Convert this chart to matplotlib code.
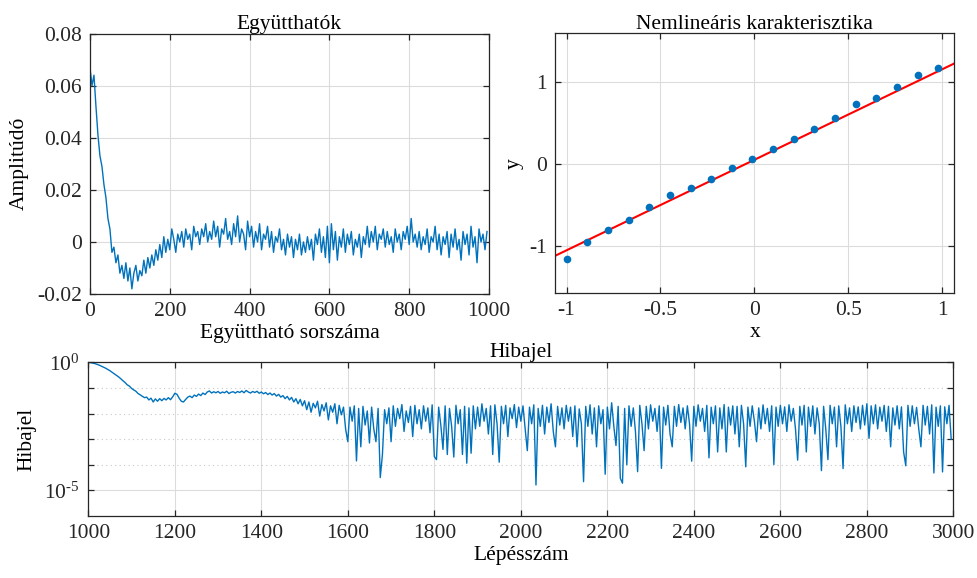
import numpy as np
import matplotlib
matplotlib.use('Agg')
import matplotlib.pyplot as plt
from matplotlib.ticker import FixedLocator, NullFormatter

plt.rcParams['font.family'] = ['Liberation Serif', 'DejaVu Serif']
plt.rcParams['mathtext.fontset'] = 'custom'
plt.rcParams['mathtext.rm'] = 'Liberation Serif'
plt.rcParams['axes.unicode_minus'] = False

# coefficients (every 5th tap), in units of 1e-3
coef_n = list(range(0, 1000, 5))
coef_milli = [
    67, 60, 64, 52, 41, 33, 29, 22, 17, 9, 5, -4, -2, -8, -5, -12, -9, -14, -8, -15,
    -10, -18, -12, -9, -15, -11, -13, -7, -12, -6, -10, -5, -9, -3, -7, -1, -6, 2, -4, 1,
    -3, 5, 1, -4, 3, 0, 4, -2, 5, 1, 3, -3, 6, 2, 4, -1, 5, 2, 7, 0,
    4, 1, 8, 2, 6, -2, 5, 3, 9, 1, 4, -1, 7, 2, 10, 0, 5, 3, -3, 8,
    2, 6, -2, 4, 0, 7, -3, 3, 1, 6, -2, 4, -4, 2, 0, 5, -3, 1, -5, 3,
    -2, 2, -6, 1, -3, 3, -5, 0, -4, 2, -3, 1, -7, 3, -1, 5, -4, 2, -6, 6,
    -8, 7, -3, 4, -7, 2, -2, 5, -4, 3, -1, 4, -5, 1, -2, 3, -6, 2, -1, 6,
    -2, 4, 0, 6, -3, 3, 1, 5, -2, 4, -1, 2, -4, 5, 0, 3, -3, 4, 1, 6,
    -1, 9, 0, 3, -2, 4, -3, 2, -1, 5, -4, 2, 0, 6, -3, 3, -5, 2, -1, 4,
    -6, 3, -2, 5, -3, 1, -7, 4, -1, 3, -5, 6, -2, 2, -8, 5, 0, 3, -3, 4,
]

# nonlinear characteristic samples
char_x = [-1.0, -0.89, -0.78, -0.67, -0.56, -0.45, -0.34, -0.23, -0.12, -0.01,
          0.10, 0.21, 0.32, 0.43, 0.54, 0.65, 0.76, 0.87, 0.98]
char_y = [-1.15, -0.95, -0.80, -0.68, -0.52, -0.37, -0.29, -0.18, -0.05, 0.07,
          0.19, 0.31, 0.43, 0.57, 0.74, 0.81, 0.95, 1.09, 1.18]
fit_x = [-1.06, 1.065]
fit_y = [-1.115, 1.232]

# error signal (every 5th step), log10 of value
err_step = list(range(1000, 3000, 5))
err_log10 = [
    0.0, -0.01, -0.03, -0.05, -0.08, -0.11, -0.15, -0.19, -0.23, -0.28,
    -0.33, -0.39, -0.45, -0.51, -0.57, -0.64, -0.72, -0.79, -0.88, -0.93,
    -1.02, -1.08, -1.13, -1.22, -1.27, -1.33, -1.38, -1.36, -1.47, -1.40,
    -1.55, -1.43, -1.52, -1.42, -1.50, -1.41, -1.47, -1.38, -1.46, -1.35,
    -1.21, -1.25, -1.40, -1.52, -1.55, -1.45, -1.36, -1.32, -1.38, -1.28,
    -1.33, -1.24, -1.30, -1.20, -1.26, -1.16, -1.12, -1.20, -1.15, -1.19,
    -1.14, -1.21, -1.16, -1.19, -1.13, -1.22, -1.17, -1.15, -1.20, -1.14,
    -1.18, -1.12, -1.19, -1.10, -1.16, -1.20, -1.14, -1.18, -1.13, -1.21,
    -1.16, -1.23, -1.18, -1.26, -1.20, -1.28, -1.22, -1.32, -1.25, -1.36,
    -1.30, -1.42, -1.33, -1.47, -1.37, -1.55, -1.42, -1.62, -1.45, -1.70,
    -1.50, -1.85, -1.55, -1.95, -1.60, -1.78, -1.52, -2.10, -1.65, -1.90,
    -1.58, -2.25, -1.70, -1.95, -1.62, -2.40, -1.68, -2.05, -1.75, -2.62,
    -3.10, -1.75, -2.30, -1.70, -3.85, -1.80, -3.30, -1.72, -2.45, -1.90,
    -3.15, -1.75, -2.60, -3.10, -1.80, -4.50, -3.60, -1.85, -2.40, -1.78,
    -3.10, -1.70, -2.50, -1.80, -2.20, -1.65, -2.70, -1.90, -2.35, -1.72,
    -2.90, -1.68, -2.40, -1.85, -2.60, -1.70, -2.30, -1.78, -2.75, -1.66,
    -3.68, -3.80, -1.75, -2.45, -3.40, -1.70, -3.60, -1.80, -2.50, -3.70,
    -1.68, -2.40, -1.85, -3.60, -1.72, -3.94, -1.78, -3.55, -1.70, -2.60,
    -1.75, -2.50, -1.62, -2.30, -1.80, -2.80, -1.70, -3.60, -1.66, -2.40,
    -3.90, -1.72, -2.40, -1.68, -2.90, -1.78, -2.20, -1.65, -2.55, -1.75,
    -2.30, -1.70, -2.60, -3.45, -1.75, -2.40, -1.66, -4.79, -1.80, -2.50,
    -1.68, -2.80, -1.75, -2.35, -1.62, -2.70, -3.30, -1.72, -2.45, -1.78,
    -2.60, -1.68, -2.30, -1.75, -2.90, -1.70, -3.30, -1.82, -2.40, -4.66,
    -1.72, -2.50, -1.66, -2.80, -1.78, -3.30, -1.70, -2.40, -1.85, -4.37,
    -1.75, -2.60, -1.58, -2.50, -3.25, -1.72, -4.53, -4.72, -1.80, -4.00,
    -1.70, -2.50, -1.78, -2.70, -4.27, -1.68, -2.40, -3.45, -1.72, -2.60,
    -1.66, -2.30, -1.80, -2.70, -1.70, -4.14, -1.75, -2.45, -1.68, -2.80,
    -3.30, -1.72, -2.50, -1.65, -2.35, -1.78, -2.60, -1.70, -2.40, -3.86,
    -1.72, -2.50, -1.66, -2.30, -1.80, -2.70, -1.68, -3.73, -1.75, -2.40,
    -1.70, -3.50, -1.78, -2.60, -1.65, -3.50, -1.75, -2.45, -1.70, -2.80,
    -1.72, -3.30, -1.68, -2.40, -4.08, -1.75, -2.50, -1.70, -2.30, -3.10,
    -1.78, -2.60, -1.66, -2.40, -1.80, -2.70, -1.70, -3.99, -1.75, -2.50,
    -1.68, -2.40, -1.74, -2.70, -1.66, -2.30, -1.80, -2.60, -3.82, -1.72,
    -2.45, -1.68, -3.50, -1.75, -2.50, -1.70, -2.80, -1.78, -2.40, -4.23,
    -1.72, -2.60, -3.80, -1.68, -2.40, -1.75, -3.30, -1.70, -2.50, -4.15,
    -1.66, -2.40, -1.78, -2.70, -1.70, -2.35, -1.74, -2.60, -1.68, -2.45,
    -1.62, -2.97, -1.70, -2.40, -1.66, -2.60, -1.75, -2.30, -1.68, -2.70,
    -1.72, -3.30, -1.78, -2.45, -1.70, -2.60, -1.74, -3.50, -4.04, -1.68,
    -2.50, -1.70, -2.40, -1.76, -2.60, -3.30, -1.68, -2.45, -1.72, -2.80,
    -1.66, -4.32, -1.75, -2.50, -1.70, -4.28, -1.74, -2.40, -1.68, -3.00,
]

blue = '#0072BD'
dark = '#262626'
fs = 15.5


def matlab_axes(ax):
    for s in ax.spines.values():
        s.set_color(dark)
        s.set_linewidth(0.9)
    ax.tick_params(direction='in', top=True, right=True, length=4, width=0.9,
                   colors=dark, labelsize=fs, pad=6)
    ax.grid(True, color='#DCDCDC', linewidth=0.8)
    ax.set_axisbelow(True)


fig = plt.figure(figsize=(9.78, 5.78), dpi=100)

# top left: coefficients
ax1 = fig.add_axes([0.092, 0.4913, 0.408, 0.4507])
matlab_axes(ax1)
ax1.plot(coef_n, np.array(coef_milli) * 1e-3, color=blue, linewidth=1.0)
ax1.set_xlim(0, 1000)
ax1.set_ylim(-0.02, 0.08)
ax1.set_xticks([0, 200, 400, 600, 800, 1000])
ax1.set_xticklabels(['0', '200', '400', '600', '800', '1000'])
ax1.set_yticks([-0.02, 0, 0.02, 0.04, 0.06, 0.08])
ax1.set_yticklabels(['-0.02', '0', '0.02', '0.04', '0.06', '0.08'])
ax1.set_title('Együtthatók', fontsize=fs, pad=3)
ax1.set_xlabel('Együttható sorszáma', fontsize=fs, labelpad=2)
ax1.set_ylabel('Amplitúdó', fontsize=fs, labelpad=6)

# top right: nonlinear characteristic
ax2 = fig.add_axes([0.5678, 0.4931, 0.408, 0.4493])
matlab_axes(ax2)
ax2.plot(fit_x, fit_y, color='red', linewidth=1.5)
ax2.plot(char_x, char_y, 'o', color=blue, markersize=5.5, markeredgewidth=0)
ax2.set_xlim(-1.06, 1.065)
ax2.set_ylim(-1.57, 1.6)
ax2.set_xticks([-1, -0.5, 0, 0.5, 1])
ax2.set_xticklabels(['-1', '-0.5', '0', '0.5', '1'])
ax2.set_yticks([-1, 0, 1])
ax2.set_yticklabels(['-1', '0', '1'])
ax2.set_title('Nemlineáris karakterisztika', fontsize=fs, pad=3)
ax2.set_xlabel('x', fontsize=fs, labelpad=2)
ax2.set_ylabel('y', fontsize=fs, labelpad=4)

# bottom: error signal
ax3 = fig.add_axes([0.0903, 0.1073, 0.8845, 0.2659])
matlab_axes(ax3)
ax3.semilogy(err_step, 10.0 ** np.array(err_log10), color=blue, linewidth=1.0)
ax3.set_xlim(1000, 3000)
ax3.set_ylim(1e-6, 1)
ax3.set_xticks(list(range(1000, 3001, 200)))
ax3.yaxis.set_major_locator(FixedLocator([1e-5, 1]))
ax3.set_yticklabels([r'$\mathregular{10^{\text{-}5}}$', r'$\mathregular{10^{0}}$'])
ax3.yaxis.set_minor_locator(FixedLocator([1e-4, 1e-3, 1e-2, 1e-1]))
ax3.yaxis.set_minor_formatter(NullFormatter())
ax3.tick_params(which='minor', direction='in', right=True, length=4, width=0.9, colors=dark)
ax3.grid(True, which='minor', axis='y', color='#C8C8C8', linestyle=(0, (1, 3)), linewidth=0.8)
ax3.set_title('Hibajel', fontsize=fs, pad=4)
ax3.set_xlabel('Lépésszám', fontsize=fs, labelpad=2)
ax3.set_ylabel('Hibajel', fontsize=fs, labelpad=6)

fig.savefig('out.png', dpi=100)
